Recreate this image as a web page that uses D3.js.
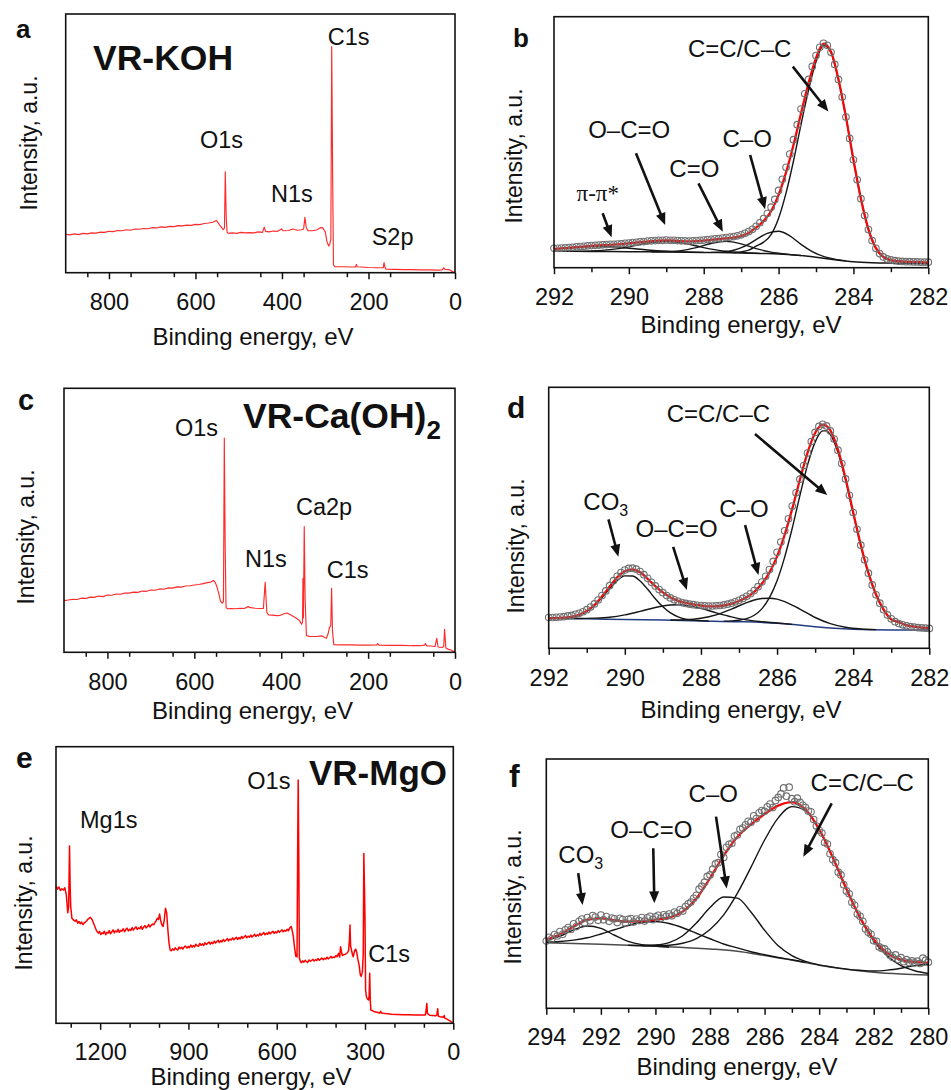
<!DOCTYPE html>
<html>
<head>
<meta charset="utf-8">
<script src="https://cdn.jsdelivr.net/npm/d3@7"></script>
<style>
  body { margin: 0; background: #fff; }
  svg { display: block; }
</style>
</head>
<body>
<svg id="fig" width="951" height="1090"></svg>
<script>
// ---------- Survey spectra: [binding energy (eV), intensity (a.u., % of frame)] ----------
const surveyKOH = [[900,14.8],[890,14.6],[880,15.0],[870,14.7],[860,15.2],[850,15.0],[840,15.4],[830,15.3],[820,15.7],[810,15.6],[800,16.0],[790,15.9],[780,16.3],[770,16.2],[760,16.6],[750,16.4],[740,16.9],[730,16.8],[720,17.1],[710,17.0],[700,17.4],[690,17.3],[680,17.7],[670,17.5],[660,17.9],[650,17.8],[640,18.2],[630,18.1],[620,18.4],[610,18.3],[600,18.7],[590,18.6],[580,19.0],[570,19.2],[560,19.5],[556,19.8],[552,20.2],[548,19.4],[544,18.4],[540,17.6],[536,16.6],[533,17.2],[531,39.0],[529,22.0],[527,15.6],[524,15.2],[515,15.4],[505,15.2],[495,15.6],[485,15.4],[475,15.5],[465,15.4],[455,15.8],[445,15.6],[441,17.6],[438,16.0],[430,15.8],[420,16.1],[410,16.0],[401,16.9],[397,16.2],[385,16.3],[375,16.9],[365,16.4],[355,16.6],[350,16.9],[347,21.4],[344,17.6],[340,16.2],[330,16.2],[320,16.5],[312,17.3],[306,17.4],[300,15.8],[296,12.0],[292,10.3],[289,11.3],[287,13.0],[285,87.4],[283,40.0],[281,3.0],[278,2.3],[260,2.3],[240,2.2],[230,2.2],[228,3.2],[226,2.3],[200,2.0],[180,1.9],[166,1.9],[164,3.9],[162,2.1],[160,1.4],[140,1.3],[120,1.2],[100,1.2],[80,1.1],[60,1.1],[40,1.0],[30,1.1],[26,1.9],[23,1.3],[15,1.2],[8,0.7],[0,0.0]];

const surveyCa = [[900,19.6],[890,19.8],[880,20.1],[870,20.0],[860,20.5],[850,20.4],[840,20.9],[830,20.8],[820,21.3],[810,21.1],[800,21.7],[790,21.6],[780,22.1],[770,22.0],[760,22.4],[750,22.4],[740,22.8],[730,22.7],[720,23.2],[710,23.1],[700,23.6],[690,23.5],[680,24.0],[670,23.9],[660,24.4],[650,24.3],[640,24.8],[630,24.7],[620,25.1],[610,25.2],[600,25.5],[590,25.7],[580,26.0],[570,26.4],[562,26.6],[556,27.2],[552,26.5],[548,24.8],[544,22.5],[540,19.5],[536,18.6],[533,19.2],[531,81.1],[529,40.0],[527,17.0],[524,16.5],[515,16.6],[505,16.5],[495,16.7],[485,16.6],[476,17.3],[470,16.9],[460,16.7],[450,16.6],[441,16.6],[437,26.5],[433,15.0],[429,14.2],[420,14.1],[410,13.9],[402,14.0],[395,14.5],[387,14.9],[380,14.3],[372,13.6],[365,12.9],[358,12.0],[353,10.6],[351,11.5],[350,28.0],[349,13.0],[347,47.6],[345,20.0],[342,6.4],[335,6.0],[320,6.0],[306,6.2],[300,5.6],[296,5.3],[292,7.0],[289,9.4],[286,10.0],[284,24.2],[282,8.0],[279,2.9],[260,2.8],[240,2.8],[220,2.7],[200,2.7],[180,2.8],[178,3.3],[175,2.7],[150,2.6],[120,2.6],[100,2.5],[80,2.5],[70,2.7],[68,3.3],[65,2.4],[56,2.4],[46,2.2],[42,5.3],[39,2.0],[30,1.8],[26,2.2],[24,8.7],[21,1.6],[16,1.2],[8,0.8],[0,0.0]];

const surveyMg = [[1350,49.6],[1345,48.5],[1340,49.3],[1335,48.0],[1330,48.6],[1325,48.2],[1320,49.0],[1315,46.5],[1310,40.0],[1307,42.0],[1304,64.1],[1302,50.0],[1300,42.2],[1296,38.0],
[1290,37.3],[1285,36.9],[1281,37.4],[1276,36.2],[1272,36.8],[1267,36.0],[1263,36.6],[1258,35.7],[1254,36.3],[1250,36.6],[1246,37.0],[1242,37.6],[1238,37.9],[1234,38.3],[1230,37.9],[1226,37.2],[1222,36.1],[1218,35.0],[1214,33.9],[1210,33.1],[1206,32.6],
[1202,33.2],[1198,32.1],[1194,32.7],[1190,32.4],[1186,33.3],[1181,32.0],[1177,32.9],[1173,32.6],[1169,33.5],[1165,32.4],[1160,33.1],[1156,33.8],[1152,32.7],[1148,33.4],[1143,33.0],[1139,34.0],[1135,32.9],[1130,33.6],[1126,33.3],[1122,34.2],[1117,33.1],[1113,33.9],[1109,34.4],[1104,33.4],[1100,34.0],[1096,33.6],[1091,34.6],[1087,33.7],[1083,34.3],[1078,34.9],[1074,33.9],[1070,34.5],[1065,34.2],[1061,35.1],[1057,34.0],[1052,34.8],[1048,35.3],[1044,34.5],[1039,35.0],[1035,35.7],[1031,34.8],[1026,35.5],[1022,35.9],[1018,35.6],[1014,36.4],[1010,37.0],
[1006,38.0],[1002,37.5],[998,39.5],[994,37.0],[990,35.5],[986,35.0],[982,37.5],[978,41.6],[974,40.0],[970,34.0],[966,29.0],[962,26.5],
[958,26.2],[954,26.9],[949,26.4],[945,27.3],[941,26.8],[936,26.5],[932,27.6],[928,27.0],[923,27.5],[919,26.8],[914,27.6],[910,27.9],[905,27.2],[901,27.8],[897,27.3],[892,28.3],[888,27.5],[883,28.1],[879,27.6],[875,28.6],[870,28.0],[866,27.8],[861,28.9],[857,28.2],[852,28.7],[848,28.1],[844,29.1],[839,28.5],[835,28.9],[830,29.4],[826,28.6],[821,29.3],[817,28.8],[812,29.7],[808,29.0],[804,29.5],[799,30.0],[795,29.2],[790,29.9],[786,29.4],[781,30.3],[777,29.6],[773,30.0],[768,30.6],[764,29.8],[759,30.5],[755,30.1],[750,30.9],[746,30.2],[742,30.6],[737,31.1],[733,30.3],[728,31.0],[724,30.5],[719,31.4],[715,30.7],[711,31.2],[706,31.7],[702,30.9],[697,31.5],[693,31.1],[688,31.9],[684,31.2],[680,31.6],[675,32.2],[671,31.4],[666,32.0],[662,31.6],[657,32.5],[653,31.8],[649,32.3],[644,32.8],[640,32.0],[635,32.6],[631,32.2],[626,33.0],[622,32.3],[618,32.8],[613,33.3],[609,32.5],[604,33.1],[600,32.7],[595,33.5],[591,32.9],[587,33.3],[582,33.8],[578,33.1],[573,33.6],[569,33.3],[564,34.0],[560,33.5],
[555,34.6],[551,35.0],[547,33.4],[543,31.0],[539,27.0],[535,24.2],[531,24.0],[529,60.0],[527,88.0],[525,60.0],[523,23.5],
[520,22.5],[516,21.9],[512,22.6],[508,22.1],[503,22.8],[499,22.3],[495,22.0],[490,22.9],[486,22.4],[482,22.7],[477,23.1],[473,22.5],[468,23.0],[464,22.7],[460,23.4],[455,22.8],[451,23.2],[447,23.6],[442,23.0],[438,23.5],[433,23.2],[429,23.9],[425,23.3],[420,23.7],[416,24.2],[412,23.6],[407,24.0],[403,23.8],[399,24.5],[395,24.1],
[390,25.3],[386,24.0],[383,27.7],[380,25.8],[377,24.5],[372,24.8],[366,25.0],[360,25.5],[356,26.2],[353,30.0],[351,35.5],[349,28.0],[346,26.5],[343,25.0],[340,24.1],[337,25.5],[334,26.5],[331,26.8],[328,25.5],[324,23.0],[320,21.0],[316,17.5],[313,17.0],[309,18.5],[306,25.0],[304,61.4],[302,50.0],[300,37.3],[298,12.0],[295,9.5],[291,8.7],[288,8.4],[286,10.0],[284,18.1],[282,8.0],[280,4.8],[270,4.3],[260,4.0],[250,3.7],[247,4.3],[244,3.7],[230,3.5],[210,3.3],[190,3.2],[170,3.1],[150,3.1],[130,3.0],[110,3.0],[95,3.0],[92,5.0],[90,7.2],[88,3.6],[80,2.9],[70,2.8],[60,2.7],[56,3.0],[53,5.3],[51,2.6],[45,2.4],[38,2.3],[33,2.2],[31,2.8],[29,1.9],[20,1.4],[10,0.8],[0,0.0]];

// ---------- C1s spectrum, VR-KOH ----------
// measured counts, 292.0 -> 282.0 eV in 0.1 eV steps
const koh_start = 292.0, koh_step = 0.1;
const koh_counts = [
  7.7, 7.7, 7.8, 7.9, 8.0, 8.1, 8.3, 8.4, 8.5, 8.7, 8.8,
  8.9, 9.0, 9.1, 9.2, 9.3, 9.3, 9.4, 9.5, 9.7, 9.8,
  10.0, 10.1, 10.3, 10.4, 10.6, 10.7, 10.8, 10.9, 10.9, 11.0,
  10.9, 10.9, 10.8, 10.7, 10.7, 10.6, 10.7, 10.8, 10.9, 11.0,
  11.2, 11.3, 11.5, 11.6, 11.8, 12.0, 12.2, 12.4, 12.7, 13.1,
  13.7, 14.4, 15.3, 16.5, 17.9, 19.6, 21.6, 24.1, 27.2, 30.8,
  35.2, 40.0, 45.3, 51.0, 57.0, 63.2, 69.3, 75.0, 80.2, 84.5,
  87.8, 89.4, 88.6, 85.8, 81.0, 75.0, 68.0, 60.0, 51.5, 43.0,
  35.0, 27.5, 20.8, 15.2, 10.8, 7.7, 5.6, 4.3, 3.5, 3.1,
  2.8, 2.6, 2.5, 2.4, 2.4, 2.3, 2.3, 2.2, 2.2, 2.2
];
// fitted envelope, 292.0 -> 282.0 eV in 0.2 eV steps
const koh_fit_step = 0.2;
const koh_fit = [7.5,7.7,7.9,8.2,8.4,8.7,8.9,9.0,9.2,9.4,9.7,10.0,10.3,10.6,10.8,10.9,10.8,10.6,10.5,10.6,10.8,11.1,11.4,11.7,12.0,12.6,13.8,16.0,18.6,22.5,29.0,38.0,49.0,61.5,73.5,83.5,89.3,86.0,75.0,60.0,43.0,27.5,15.3,7.8,4.3,3.0,2.6,2.4,2.3,2.2,2.1];
const koh_background = [[292,6.6],[291,6.5],[290,6.4],[289,6.3],[288,6.1],[287,5.9],[286.5,5.7],[286,5.5],[285.5,5.0],[285,4.2],[284.5,3.2],[284,2.4],[283.5,2.0],[283,1.8],[282,1.6]];
const koh_pipi = [[292,7.4],[291.5,8.0],[291,8.45],[290.5,8.35],[290,7.75],[289.5,7.05],[289,6.55],[288.5,6.28],[288,6.1]];
const koh_oco = [[291.5,6.5],[291,6.7],[290.5,7.2],[290,8.3],[289.5,9.8],[289,10.5],[288.5,9.65],[288,8.0],[287.5,6.7],[287,6.1],[286.5,5.7]];
const koh_co_double = [[289.4,6.3],[289,6.43],[288.6,6.8],[288.2,8.0],[287.8,9.66],[287.4,10.5],[287,9.5],[286.6,7.6],[286.2,6.2],[285.8,5.4],[285.4,4.85]];
const koh_co_single = [[287.8,6.1],[287.5,6.3],[287.2,6.95],[286.9,8.6],[286.6,11.2],[286.3,13.7],[286.0,14.5],[285.7,12.7],[285.4,9.3],[285.1,6.4],[284.8,4.5],[284.5,3.4],[284.2,2.7]];
const koh_cc = [[287.2,5.95],[287.0,6.3],[286.8,7.0],[286.6,8.6],[286.4,10.2],[286.2,13.2],[286.0,19.7],[285.8,29.8],[285.6,42.6],[285.4,57.1],[285.2,70.8],[285.0,82.0],[284.8,88.6],[284.6,85.7],[284.4,74.9],[284.2,59.9],[284.0,43.0],[283.8,27.5],[283.6,15.3],[283.4,7.8],[283.2,4.2],[283.0,2.9],[282.6,2.2],[282.0,1.9]];

// ---------- C1s spectrum, VR-Ca(OH)2 ----------
const ca_start = 292.0, ca_step = 0.1;
const ca_counts = [
  11.8, 11.8, 11.9, 12.0, 12.1, 12.4, 12.6, 13.0, 13.4, 14.0, 14.8,
  15.8, 17.0, 18.5, 20.2, 22.0, 24.0, 25.9, 27.6, 29.0, 30.0,
  30.6, 30.7, 30.3, 29.4, 28.2, 26.8, 25.3, 23.9, 22.5, 21.3,
  20.2, 19.3, 18.6, 18.0, 17.5, 17.2, 16.9, 16.7, 16.5, 16.4,
  16.3, 16.2, 16.2, 16.3, 16.4, 16.6, 16.9, 17.3, 17.8, 18.4,
  19.1, 19.9, 20.9, 22.1, 23.6, 25.4, 27.6, 30.2, 33.3, 36.8,
  40.7, 45.0, 49.6, 54.5, 59.6, 64.8, 70.0, 74.8, 79.2, 82.7,
  85.0, 85.8, 85.2, 83.3, 80.2, 75.9, 70.8, 64.9, 58.6, 52.0,
  45.6, 39.5, 33.9, 28.8, 24.3, 20.5, 17.3, 14.8, 12.8, 11.3,
  10.2, 9.5, 9.0, 8.6, 8.3, 8.1, 7.9, 7.8, 7.7, 7.6
];
const ca_fit_step = 0.2;
const ca_fit = [11.5,11.55,11.7,12.0,12.8,14.3,16.6,19.9,23.6,27.2,29.5,30.2,29.1,26.6,23.8,21.4,19.5,18.2,17.4,16.8,16.4,16.1,16.1,16.4,17.0,18.1,19.55,21.65,24.7,29.0,35.2,43.5,53.5,64.6,74.9,82.5,85.7,83.5,76.1,65.05,52.1,39.6,28.9,20.6,14.8,11.1,10.0,8.9,8.3,7.9,7.7];
const ca_background = [[292,11.5],[291,11.3],[290,11.0],[289,10.8],[288,10.5],[287,10.2],[286,9.6],[285.5,9.0],[285,8.3],[284.5,7.7],[284,7.3],[283,7.0],[282,7.0]];
const ca_co3 = [[292.0,11.5],[291.8,11.55],[291.6,11.65],[291.4,12.0],[291.2,12.7],[291.0,14.1],[290.8,16.3],[290.6,19.4],[290.4,22.8],[290.2,25.95],[290.0,27.75],[289.8,27.7],[289.6,25.8],[289.4,22.6],[289.2,19.0],[289.0,15.9],[288.8,13.55],[288.6,12.05],[288.4,11.2],[288.2,10.8],[288.0,10.6],[287.8,10.45]];
const ca_oco = [[291.6,11.45],[291.2,11.43],[290.8,11.55],[290.4,11.9],[290.0,12.8],[289.6,14.15],[289.2,15.65],[288.8,16.6],[288.6,16.7],[288.4,16.45],[288.0,15.3],[287.6,13.6],[287.2,12.05],[286.8,10.9],[286.4,10.15],[286.0,9.7],[285.6,9.15]];
const ca_co_single = [[288.8,10.83],[288.4,10.95],[288.0,11.5],[287.6,12.8],[287.2,15.0],[286.8,17.5],[286.6,18.5],[286.4,19.1],[286.2,19.2],[286.0,18.85],[285.8,17.9],[285.4,15.0],[285.0,11.8],[284.6,9.45],[284.2,8.05],[283.8,7.4],[283.4,7.15]];
const ca_cc = [[287.4,10.4],[287.2,10.5],[287.0,10.75],[286.8,11.35],[286.6,12.65],[286.4,15.1],[286.2,19.4],[286.0,25.9],[285.8,34.95],[285.6,46.1],[285.4,58.5],[285.2,70.2],[285.0,79.0],[284.9,81.9],[284.8,83.3],[284.7,83.3],[284.6,81.9],[284.4,75.1],[284.2,64.5],[284.0,51.8],[283.8,39.4],[283.6,28.8],[283.4,20.5],[283.2,14.8],[283.0,11.1],[282.8,10.0],[282.6,8.9],[282.4,8.3],[282.2,7.9],[282.0,7.7]];

// ---------- C1s spectrum, VR-MgO ----------
const mg_start = 294.0, mg_step = 0.1;
const mg_counts = [
  27.0, 28.5, 27.9, 29.6, 29.0, 30.8, 29.7, 31.5, 32.4, 31.6,
  33.9, 32.8, 34.9, 35.8, 34.3, 36.4, 35.1, 37.2, 36.6, 35.3,
  37.4, 35.5, 36.8, 34.9, 36.2, 35.9, 34.4, 36.1, 35.6, 34.2,
  35.7, 36.0, 34.6, 35.8, 35.2, 36.4, 35.0, 36.3, 36.9, 35.6,
  36.7, 37.3, 36.2, 37.5, 36.9, 37.8, 37.1, 38.6, 38.1, 39.5,
  39.0, 40.8, 41.9, 42.6, 44.1, 45.3, 47.8, 49.0, 50.6, 52.9,
  53.5, 55.8, 57.9, 58.4, 61.7, 60.5, 64.6, 65.8, 66.2, 69.1,
  69.5, 71.8, 72.3, 73.6, 75.0, 74.6, 77.2, 76.1, 78.4, 79.3,
  79.0, 80.8, 81.9, 80.5, 83.4, 84.6, 86.0, 88.4, 85.1, 88.7,
  84.1, 82.9, 84.3, 82.6, 81.4, 80.5, 79.1, 78.8, 75.7, 73.1,
  71.4, 70.3, 66.5, 65.9, 62.0, 59.6, 58.4, 54.6, 53.5, 49.6,
  47.1, 45.9, 42.5, 41.3, 37.8, 36.9, 34.9, 31.8, 30.5, 29.7,
  27.1, 26.9, 24.6, 24.0, 23.8, 22.6, 21.3, 20.4, 21.4, 19.6,
  20.3, 18.7, 19.5, 18.4, 19.0, 18.2, 18.9, 18.0, 20.1, 19.3,
  18.5
];
const mg_fit_step = 0.5;
const mg_fit = [27.55,29.6,32.8,35.5,36.1,35.3,34.8,35.0,35.6,36.4,38.8,44.05,52.2,61.2,68.7,73.8,77.9,81.3,82.7,79.75,71.8,60.5,47.8,36.4,27.6,22.1,19.4,18.6,18.2];
const mg_background = [[294,26.3],[292,25.7],[290,24.9],[288,23.8],[287,22.9],[286,21.2],[285,19.4],[284,17.3],[283,15.7],[282,14.5],[281,13.8],[280,13.4]];
const mg_co3 = [[294,27.3],[293.5,28.95],[293,31.45],[292.5,33.0],[292,32.05],[291.5,29.3],[291,26.85],[290.5,25.55],[290,25.0],[289.5,24.6]];
const mg_oco = [[294,26.6],[293.5,26.8],[293,27.35],[292.5,28.3],[292,29.8],[291.5,31.5],[291,33.2],[290.5,34.5],[290,34.8],[289.5,34.0],[289,32.3],[288.5,30.1],[288,27.9],[287.5,25.8],[287,24.25],[286.5,22.7],[286,21.5],[285.5,20.4],[285,19.45],[284.5,18.35]];
const mg_co_single = [[291,25.3],[290.5,25.2],[290,25.4],[289.5,26.35],[289,29.1],[288.5,34.2],[288,40.4],[287.5,44.65],[287,44.2],[286.5,38.65],[286,31.3],[285.5,25.05],[285,21.15],[284.5,18.85],[284,17.4],[283.5,16.5]];
const mg_cc = [[290.5,25.1],[290,25.15],[289.5,25.3],[289,26.1],[288.5,27.95],[288,31.6],[287.5,37.45],[287,46.1],[286.5,56.55],[286,67.5],[285.5,76.4],[285,80.9],[284.5,79.25],[284,71.7],[283.5,60.5],[283,47.8],[282.5,36.3],[282,27.1],[281.5,20.95],[281,17.1],[280.5,15.06],[280,13.98]];
const mg_low = [[283.5,16.5],[283,15.73],[282.5,15.24],[282,14.97],[281.5,15.32],[281,16.09],[280.5,17.11],[280,17.58]];

// ---------- axis ticks ----------
const surveyMajor = [800, 600, 400, 200, 0];
const surveyMinor = [850, 750, 650, 550, 450, 350, 250, 150, 50];
const mgSurveyMajor = [1200, 900, 600, 300, 0];
const mgSurveyMinor = [1300, 1100, 1000, 800, 700, 500, 400, 200, 100];
const c1sMajor = [292, 290, 288, 286, 284, 282];
const c1sMinor = [291, 289, 287, 285, 283];
const mgC1sMajor = [294, 292, 290, 288, 286, 284, 282, 280];
const mgC1sMinor = [293, 291, 289, 287, 285, 283, 281];

// ---------- drawing ----------
const FONT = '"Liberation Sans", Arial, Helvetica, sans-serif';
const SERIF = '"Liberation Serif", "Times New Roman", serif';
const INK = "#111";
const svg = d3.select("#fig");
svg.append("rect").attr("width", 951).attr("height", 1090).attr("fill", "#fff");

function makePanel(box, domain) {
  const w = box.right - box.left, h = box.bottom - box.top;
  const g = svg.append("g").attr("transform", `translate(${box.left},${box.top})`);
  const x = d3.scaleLinear().domain(domain).range([0, w]);
  const y = d3.scaleLinear().domain([0, 100]).range([h, 0]);
  return { g, x, y, w, h, box };
}

function drawAxes(P, major, minor, pad) {
  const { g, x, w, h } = P;
  g.append("g").attr("transform", `translate(0,${h})`)
    .call(d3.axisBottom(x).tickValues(minor).tickSize(4.5).tickSizeOuter(0).tickFormat(""))
    .call(s => s.select(".domain").remove())
    .call(s => s.selectAll("line").attr("stroke", INK).attr("stroke-width", 1.5));
  g.append("g").attr("transform", `translate(0,${h})`)
    .call(d3.axisBottom(x).tickValues(major).tickSize(6.5).tickSizeOuter(0).tickPadding(pad).tickFormat(d3.format("d")))
    .call(s => s.select(".domain").remove())
    .call(s => s.selectAll("line").attr("stroke", INK).attr("stroke-width", 1.5))
    .call(s => s.selectAll("text").attr("fill", INK).attr("font-size", 23.5).attr("font-family", FONT));
  g.append("rect").attr("width", w).attr("height", h)
    .attr("fill", "none").attr("stroke", INK).attr("stroke-width", 1.6);
}

function plainText(x, y, str, opts = {}) {
  return svg.append("text").attr("x", x).attr("y", y)
    .attr("font-family", opts.family || FONT)
    .attr("font-size", opts.size || 24)
    .attr("font-weight", opts.weight || "normal")
    .attr("text-anchor", opts.anchor || "start")
    .attr("fill", INK).text(str);
}

function axisTitles(P, titleX, titleY, ylabX, ylabY) {
  plainText(titleX, titleY, "Binding energy, eV", { anchor: "middle", size: 24 });
  svg.append("text")
    .attr("transform", `translate(${ylabX},${ylabY}) rotate(-90)`)
    .attr("text-anchor", "middle").attr("font-family", FONT)
    .attr("font-size", 23).attr("fill", INK).text("Intensity, a.u.");
}

function drawSurvey(P, series, color, width) {
  const line = d3.line().x(d => P.x(d[0])).y(d => P.y(d[1]));
  P.g.append("path").datum(series).attr("d", line)
    .attr("fill", "none").attr("stroke", color).attr("stroke-width", width)
    .attr("stroke-linejoin", "round");
}

function surveyNotes(P, notes) {
  notes.forEach(n => {
    P.g.append("text").attr("x", P.x(n.at[0])).attr("y", P.y(n.at[1]))
      .attr("font-family", FONT).attr("font-size", 23.5).attr("fill", INK).text(n.label);
  });
}

function drawC1s(P, spec) {
  const curve = d3.line().curve(d3.curveMonotoneX).x(d => P.x(d[0])).y(d => P.y(d[1]));
  P.g.append("path").datum(spec.background).attr("d", curve)
    .attr("fill", "none").attr("stroke", spec.bgColor).attr("stroke-width", 1.5);
  spec.components.forEach(c => {
    P.g.append("path").datum(c).attr("d", curve)
      .attr("fill", "none").attr("stroke", "#151515").attr("stroke-width", 1.4);
  });
  const fitPts = spec.fit.map((v, i) => [spec.start - i * spec.fitStep, v]);
  P.g.append("path").datum(fitPts).attr("d", curve)
    .attr("fill", "none").attr("stroke", "#ee0a0a").attr("stroke-width", 2.3);
  const pts = spec.counts.map((v, i) => [spec.start - i * spec.step, v]);
  P.g.append("g").selectAll("circle").data(pts).join("circle")
    .attr("cx", d => P.x(d[0])).attr("cy", d => P.y(d[1])).attr("r", 3.3)
    .attr("fill", "none").attr("stroke", "#707070").attr("stroke-width", 1.1);
}

function arrow(P, tail, head) {
  const x0 = P.x(tail[0]), y0 = P.y(tail[1]);
  const x1 = P.x(head[0]), y1 = P.y(head[1]);
  const len = Math.hypot(x1 - x0, y1 - y0);
  const ux = (x1 - x0) / len, uy = (y1 - y0) / len;
  const hl = 12, hw = 5;
  P.g.append("line").attr("x1", x0).attr("y1", y0)
    .attr("x2", x1 - ux * (hl - 2)).attr("y2", y1 - uy * (hl - 2))
    .attr("stroke", INK).attr("stroke-width", 2.6);
  const bx = x1 - ux * hl, by = y1 - uy * hl;
  P.g.append("path")
    .attr("d", `M${x1},${y1}L${bx - uy * hw},${by + ux * hw}L${bx + uy * hw},${by - ux * hw}Z`)
    .attr("fill", INK);
}

function c1sNotes(P, notes) {
  notes.forEach(n => {
    const t = P.g.append("text").attr("x", P.x(n.at[0])).attr("y", P.y(n.at[1]))
      .attr("font-family", n.serif ? SERIF : FONT).attr("font-size", n.serif ? 23 : 24)
      .attr("text-anchor", n.anchor || "middle").attr("fill", INK);
    t.append("tspan").text(n.label);
    if (n.sub) t.append("tspan").attr("dy", 6).attr("font-size", 16).text(n.sub);
    arrow(P, n.tail, n.head);
  });
}

// ----- panel a -----
const Pa = makePanel({ left: 65.7, top: 14, right: 455, bottom: 272.7 }, [900, 0]);
drawSurvey(Pa, surveyKOH, "#ff2b2b", 1.15);
drawAxes(Pa, surveyMajor, surveyMinor, 14);
surveyNotes(Pa, [
  { label: "C1s", at: [294.3, 88.0] },
  { label: "O1s", at: [589.5, 48.1] },
  { label: "N1s", at: [425.4, 27.4] },
  { label: "S2p", at: [192.6, 10.7] }
]);
axisTitles(Pa, 253, 345, 37, 143);
plainText(93, 70, "VR-KOH", { size: 35.5, weight: "bold" });
plainText(16, 38, "a", { size: 26, weight: "bold" });

// ----- panel b -----
const Pb = makePanel({ left: 554, top: 16.7, right: 928.3, bottom: 267.7 }, [292, 282]);
drawC1s(Pb, {
  start: koh_start, step: koh_step, counts: koh_counts,
  fitStep: koh_fit_step, fit: koh_fit,
  background: koh_background, bgColor: "#151515",
  components: [koh_pipi, koh_oco, koh_co_double, koh_co_single, koh_cc]
});
drawAxes(Pb, c1sMajor, c1sMinor, 14);
c1sNotes(Pb, [
  { label: "C=C/C–C", at: [287.04, 83.8], tail: [285.62, 80.1], head: [284.67, 62.2] },
  { label: "O–C=O", at: [289.99, 51.6], tail: [289.81, 45.6], head: [289.03, 17.0] },
  { label: "C–O", at: [286.84, 48.0], tail: [286.76, 44.9], head: [286.36, 23.3] },
  { label: "C=O", at: [288.25, 36.3], tail: [288.14, 33.6], head: [287.49, 14.3] },
  { label: "π-π*", at: [290.83, 26.6], tail: [290.70, 21.7], head: [290.46, 12.1], serif: true }
]);
axisTitles(Pb, 741, 333, 522, 156);
plainText(513, 46.5, "b", { size: 26, weight: "bold" });

// ----- panel c -----
const Pc = makePanel({ left: 64, top: 388.3, right: 455, bottom: 652.3 }, [900, 0]);
drawSurvey(Pc, surveyCa, "#ff2b2b", 1.15);
drawAxes(Pc, surveyMajor, surveyMinor, 15);
surveyNotes(Pc, [
  { label: "O1s", at: [644.5, 81.9] },
  { label: "N1s", at: [483.4, 32.4] },
  { label: "Ca2p", at: [366.0, 52.0] },
  { label: "C1s", at: [295.3, 28.0] }
]);
axisTitles(Pc, 252.5, 719, 34, 537);
{
  const t = plainText(243, 428, "", { size: 35.5, weight: "bold" });
  t.append("tspan").text("VR-Ca(OH)");
  t.append("tspan").attr("dy", 11).attr("font-size", 26).text("2");
}
plainText(18, 410, "c", { size: 29, weight: "bold" });

// ----- panel d -----
const Pd = makePanel({ left: 548.7, top: 387.3, right: 929.3, bottom: 648.3 }, [292, 282]);
drawC1s(Pd, {
  start: ca_start, step: ca_step, counts: ca_counts,
  fitStep: ca_fit_step, fit: ca_fit,
  background: ca_background, bgColor: "#233c82",
  components: [ca_co3, ca_oco, ca_co_single, ca_cc]
});
drawAxes(Pd, c1sMajor, c1sMinor, 15);
c1sNotes(Pd, [
  { label: "C=C/C–C", at: [287.54, 86.8], tail: [286.58, 82.1], head: [284.68, 58.7] },
  { label: "CO", sub: "3", anchor: "start", at: [291.09, 53.0], tail: [290.43, 49.4], head: [290.17, 35.1] },
  { label: "O–C=O", at: [288.64, 42.8], tail: [288.73, 38.9], head: [288.37, 22.3] },
  { label: "C–O", at: [286.87, 50.4], tail: [286.84, 47.2], head: [286.49, 28.1] }
]);
axisTitles(Pd, 741, 718, 524, 546);
plainText(507, 418, "d", { size: 30, weight: "bold" });

// ----- panel e -----
const Pe = makePanel({ left: 56, top: 746.7, right: 453.3, bottom: 1023.3 }, [1350, 0]);
drawSurvey(Pe, surveyMg, "#ff0000", 1.5);
drawAxes(Pe, mgSurveyMajor, mgSurveyMinor, 14);
surveyNotes(Pe, [
  { label: "Mg1s", at: [1268.4, 70.5] },
  { label: "O1s", at: [700, 84.7] },
  { label: "C1s", at: [288.8, 22.3] }
]);
axisTitles(Pe, 251, 1085, 32, 903);
plainText(309, 785, "VR-MgO", { size: 35, weight: "bold" });
plainText(16, 768, "e", { size: 30, weight: "bold" });

// ----- panel f -----
const Pf = makePanel({ left: 546.3, top: 759, right: 928.3, bottom: 1008.3 }, [294, 280]);
drawC1s(Pf, {
  start: mg_start, step: mg_step, counts: mg_counts,
  fitStep: mg_fit_step, fit: mg_fit,
  background: mg_background, bgColor: "#4a4a4a",
  components: [mg_co3, mg_oco, mg_co_single, mg_cc, mg_low]
});
drawAxes(Pf, mgC1sMajor, mgC1sMinor, 14);
c1sNotes(Pf, [
  { label: "C=C/C–C", at: [282.42, 87.3], tail: [283.54, 82.2], head: [284.58, 60.8] },
  { label: "C–O", at: [287.88, 82.9], tail: [287.78, 76.9], head: [287.39, 48.1] },
  { label: "O–C=O", at: [290.15, 68.2], tail: [290.08, 64.2], head: [290.04, 42.1] },
  { label: "CO", sub: "3", anchor: "start", at: [293.56, 58.2], tail: [292.83, 54.2], head: [292.67, 41.4] }
]);
axisTitles(Pf, 737, 1075, 521, 897);
plainText(509, 787, "f", { size: 32, weight: "bold" });
</script>
</body>
</html>
